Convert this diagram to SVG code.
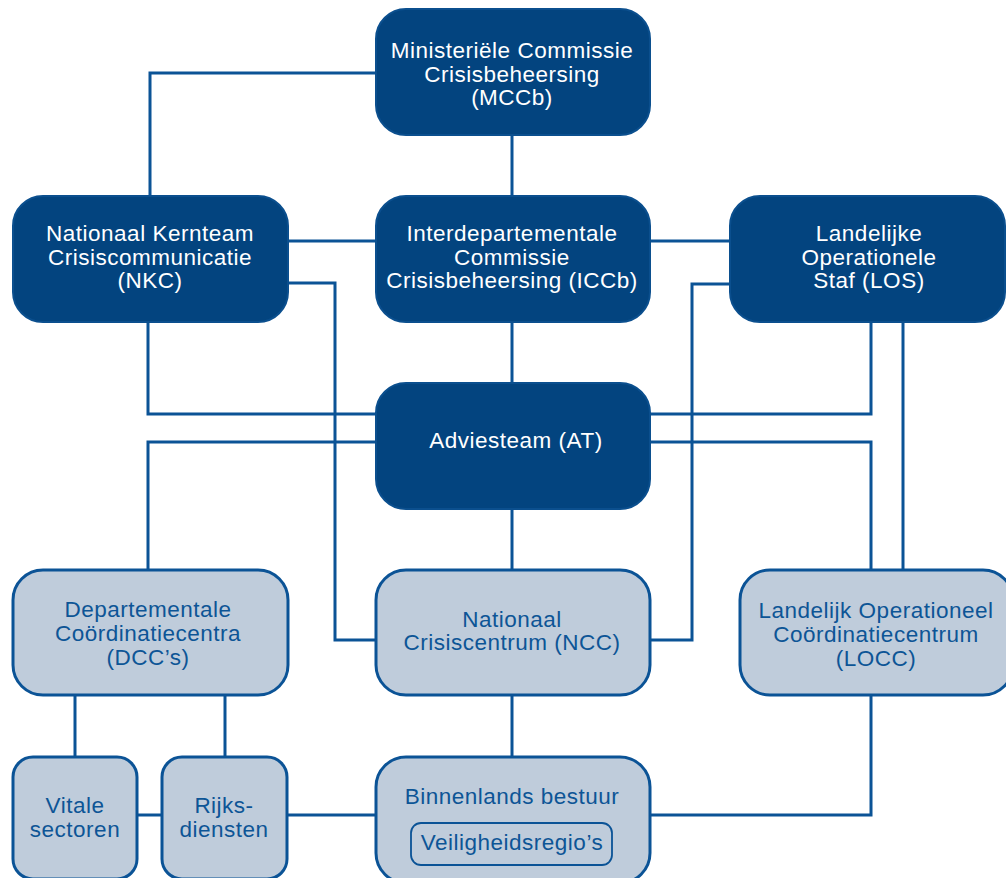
<svg xmlns="http://www.w3.org/2000/svg" width="1006" height="878" viewBox="0 0 1006 878">
<style>
.ln{fill:none;stroke:#0b5396;stroke-width:3}
.dk rect{fill:#03447f;stroke:#0b4f8e;stroke-width:2}
.lt rect{fill:#bfccdb;stroke:#0b5396;stroke-width:3}
.dk text{fill:#ffffff}
.lt text{fill:#0d5596}
text{font-family:"Liberation Sans",Arial,sans-serif;font-size:22.5px;letter-spacing:0.5px;text-anchor:middle}
.in{fill:none !important;stroke:#0b5396 !important;stroke-width:1.8 !important}
</style>
<rect width="1006" height="878" fill="#ffffff"/>
<g id="connectors">
<path class="ln" d="M376,73 H150 V196"/>
<path class="ln" d="M512,135 V196"/>
<path class="ln" d="M288,241 H376"/>
<path class="ln" d="M650,241 H730"/>
<path class="ln" d="M288,283 H335 V640 H376"/>
<path class="ln" d="M730,284 H692 V640 H650"/>
<path class="ln" d="M512,322 V383"/>
<path class="ln" d="M148,322 V414 H376"/>
<path class="ln" d="M650,414 H871 V322"/>
<path class="ln" d="M903,322 V570"/>
<path class="ln" d="M376,442 H148 V570"/>
<path class="ln" d="M650,442 H871 V570"/>
<path class="ln" d="M512,509 V570"/>
<path class="ln" d="M512,695 V757"/>
<path class="ln" d="M75,695 V757"/>
<path class="ln" d="M225,695 V757"/>
<path class="ln" d="M137,815 H162"/>
<path class="ln" d="M287,815 H376"/>
<path class="ln" d="M650,815 H871 V695"/>
</g>
<g id="mccb" class="dk">
<rect x="376" y="9" width="274" height="126" rx="30"/>
<text x="512" y="58">Ministeriële Commissie</text>
<text x="512" y="82">Crisisbeheersing</text>
<text x="512" y="105">(MCCb)</text>
</g>
<g id="nkc" class="dk">
<rect x="13" y="196" width="275" height="126" rx="30"/>
<text x="150" y="241">Nationaal Kernteam</text>
<text x="150" y="264.5">Crisiscommunicatie</text>
<text x="150" y="288">(NKC)</text>
</g>
<g id="iccb" class="dk">
<rect x="376" y="196" width="274" height="126" rx="30"/>
<text x="512" y="241">Interdepartementale</text>
<text x="512" y="264.5">Commissie</text>
<text x="512" y="288">Crisisbeheersing (ICCb)</text>
</g>
<g id="los" class="dk">
<rect x="730" y="196" width="275" height="126" rx="30"/>
<text x="869" y="241">Landelijke</text>
<text x="869" y="264.5">Operationele</text>
<text x="869" y="288">Staf (LOS)</text>
</g>
<g id="at" class="dk">
<rect x="376" y="383" width="274" height="126" rx="30"/>
<text x="516" y="448">Adviesteam (AT)</text>
</g>
<g id="dcc" class="lt">
<rect x="13" y="570" width="275" height="125" rx="30"/>
<text x="148" y="617">Departementale</text>
<text x="148" y="641">Coördinatiecentra</text>
<text x="148" y="665">(DCC’s)</text>
</g>
<g id="ncc" class="lt">
<rect x="376" y="570" width="274" height="125" rx="30"/>
<text x="512" y="627">Nationaal</text>
<text x="512" y="650">Crisiscentrum (NCC)</text>
</g>
<g id="locc" class="lt">
<rect x="740" y="570" width="273" height="125" rx="30"/>
<text x="876" y="618">Landelijk Operationeel</text>
<text x="876" y="642">Coördinatiecentrum</text>
<text x="876" y="666">(LOCC)</text>
</g>
<g id="vitale" class="lt">
<rect x="13" y="757" width="124" height="122" rx="20"/>
<text x="75" y="813">Vitale</text>
<text x="75" y="837">sectoren</text>
</g>
<g id="rijks" class="lt">
<rect x="162" y="757" width="125" height="122" rx="20"/>
<text x="224" y="813">Rijks-</text>
<text x="224" y="837">diensten</text>
</g>
<g id="binnenlands" class="lt">
<rect x="376" y="757" width="274" height="126" rx="30"/>
<text x="512" y="804">Binnenlands bestuur</text>
<rect class="in" x="411" y="823" width="201" height="42" rx="10"/>
<text x="512" y="850">Veiligheidsregio’s</text>
</g>
</svg>
